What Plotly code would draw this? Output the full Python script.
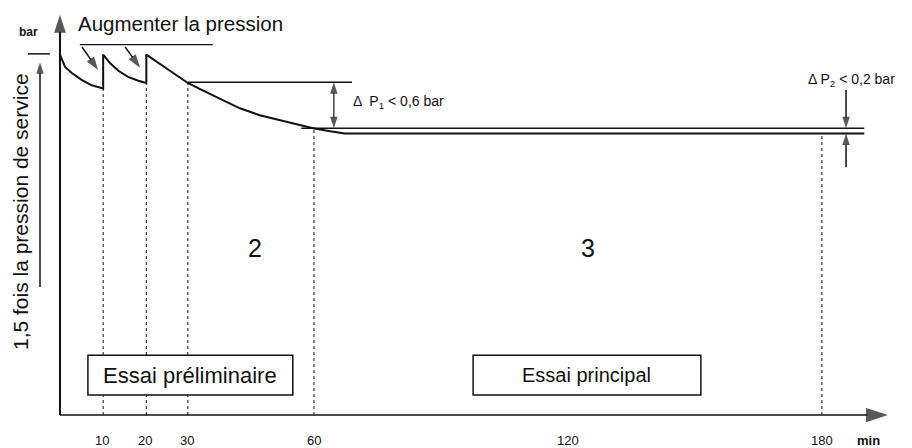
import plotly.graph_objects as go

# ---------------- data (time in min, pressure in bar) ----------------
time_min = [0, 1.2, 2.8, 5.1, 7.5, 9.5, 10.2, 10.2, 10.5, 11.8, 13.8, 16.1, 18.5, 20.1,
            20.4, 20.4, 23.6, 27.2, 30.2, 33.1, 37.8, 42.5, 47.2, 54.3, 59.8, 63.8, 67.3, 190]
pressure_bar = [4.70, 4.54, 4.46, 4.37, 4.30, 4.27, 4.26, 4.70, 4.68, 4.59, 4.49, 4.41, 4.36, 4.33,
                4.33, 4.70, 4.58, 4.45, 4.33, 4.25, 4.12, 4.00, 3.91, 3.81, 3.74, 3.70, 3.67, 3.67]

tick_values = [10, 20, 30, 60, 120, 180]
tick_labels = ["10", "20", "30", "60", "120", "180"]

event_times = [10.2, 20.4, 30.2, 60, 180]          # dotted verticals
event_pressures = [4.26, 4.33, 4.33, 3.74, 3.67]

p_test = 4.71            # 1,5 x service pressure
p_ref_30 = 4.34          # pressure at 30 min
p_main_start = 3.74      # pressure at start of main test
p_main_end = 3.67        # pressure at end of main test
t_end = 190

phase_labels = ["2", "3"]
phase_label_t = [46.1, 124.7]
box_labels = ["Essai préliminaire", "Essai principal"]
box_t = [(6.6, 55.0), (97.6, 151.4)]

FONT = "Liberation Sans, Arial, Helvetica, sans-serif"
BLACK = "#111111"

# the page body has an 8px margin; the figure is sized to fit the window
x_range = [-12.28, 201.28]
y_range = [-0.43, 5.308]

fig = go.Figure()

def seg(xs, ys, width=1.5, dash="solid", arrow=False, asize=11):
    kw = dict(x=xs, y=ys, mode="lines", line=dict(color=BLACK, width=width, dash=dash),
              hoverinfo="skip", showlegend=False)
    if arrow:
        kw["mode"] = "lines+markers"
        kw["marker"] = dict(symbol="arrow", angleref="previous",
                            size=[0] * (len(xs) - 1) + [asize], color=BLACK,
                            line=dict(width=0))
    fig.add_trace(go.Scatter(**kw))

# axes
seg([0, 0], [0, 5.22], width=2, arrow=True, asize=19)
seg([0, 195.6], [0, 0], width=1.5, arrow=True, asize=23)

# pressure curve
seg(time_min, pressure_bar, width=2)
# upper line (start of main test)
seg([57, t_end], [p_main_start, p_main_start], width=1.5)
# reference line at 30 min
seg([30.2, 69], [p_ref_30, p_ref_30], width=1.5)

# dotted verticals
for t, p in zip(event_times, event_pressures):
    seg([t, t], [0, p], width=1, dash="dot")

# ΔP1 double arrow
mid1 = (p_ref_30 + p_main_start) / 2
seg([64.7, 64.7], [mid1, p_ref_30], width=1.2, arrow=True, asize=12)
seg([64.7, 64.7], [mid1, p_main_start], width=1.2, arrow=True, asize=12)

# ΔP2 arrows
seg([185.7, 185.7], [4.24, p_main_start], width=1.5, arrow=True, asize=12)
seg([185.7, 185.7], [3.23, p_main_end], width=1.5, arrow=True, asize=12)

# "Augmenter la pression" bar + arrows
seg([4.7, 36.1], [4.83, 4.83], width=1.2)
seg([5.2, 9.0], [4.80, 4.50], width=1.5, arrow=True, asize=14)
seg([15.4, 18.9], [4.80, 4.53], width=1.5, arrow=True, asize=14)

# left marker for test pressure
seg([-7.6, -2.4], [p_test, p_test], width=1.5)
seg([-4.72, -4.72], [1.67, 4.60], width=1.5, arrow=True, asize=12)

# boxes
for (t0, t1) in box_t:
    fig.add_shape(type="rect", x0=t0, x1=t1, y0=0.26, y1=0.78, xref="x", yref="y",
                  line=dict(color=BLACK, width=1.5), fillcolor="white", layer="above")

annotations = []
def txt(x, y, s, size, xanchor="center", yanchor="middle", textangle=0, bold=False):
    if bold:
        s = "<b>" + s + "</b>"
    annotations.append(dict(x=x, y=y, xref="x", yref="y", text=s, showarrow=False,
                            font=dict(family=FONT, size=size, color=BLACK),
                            xanchor=xanchor, yanchor=yanchor, textangle=textangle))

txt(box_t[0][0] / 2 + box_t[0][1] / 2, 0.52, box_labels[0], 22)
txt(box_t[1][0] / 2 + box_t[1][1] / 2, 0.52, box_labels[1], 20)
for s, t in zip(phase_labels, phase_label_t):
    txt(t, 2.18, s, 25)
for v, l in zip(tick_values, tick_labels):
    txt(v, -0.33, l, 13)
txt(191.1, -0.33, "min", 13, bold=True)
txt(-7.4, 5.0, "bar", 12, bold=True)
txt(3.9, 5.10, "Augmenter la pression", 20.5, xanchor="left")
txt(-9.45, 2.66, "1,5 fois la pression de service", 21, textangle=-90)
txt(68.8, 4.08, "Δ  P<sub>1</sub> < 0,6 bar", 14, xanchor="left")
txt(176.3, 4.37, "Δ P<sub>2</sub> < 0,2 bar", 14, xanchor="left")

fig.update_layout(
    width=904, height=440,
    margin=dict(l=0, r=0, t=0, b=0),
    paper_bgcolor="white", plot_bgcolor="white",
    xaxis=dict(range=x_range, visible=False, fixedrange=True),
    yaxis=dict(range=y_range, visible=False, fixedrange=True),
    annotations=annotations,
    showlegend=False,
)

fig.write_html("out.html")
